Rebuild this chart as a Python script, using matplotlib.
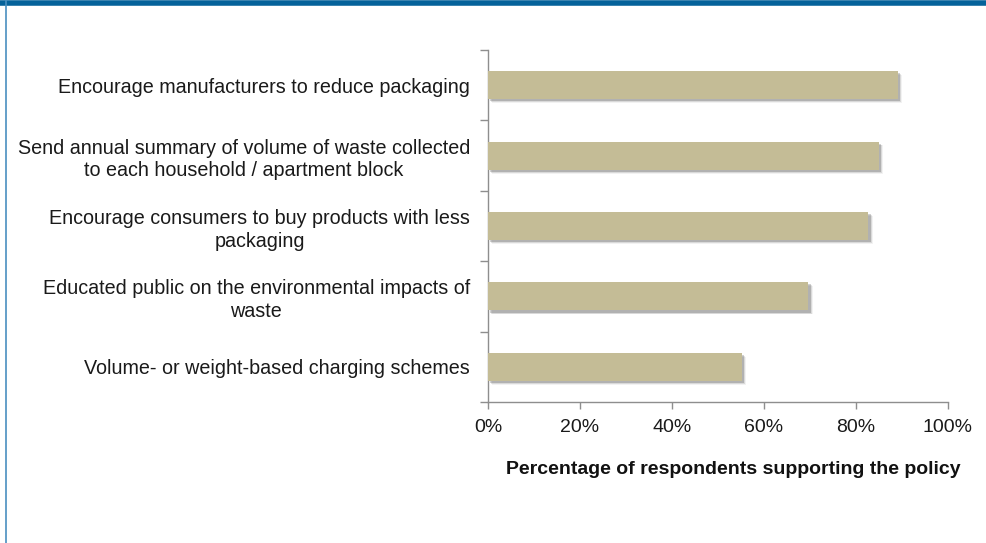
import matplotlib
matplotlib.use("Agg")
import matplotlib.pyplot as plt
import matplotlib.patheffects as pe
from matplotlib.ticker import FixedLocator, PercentFormatter
from matplotlib.lines import Line2D

plt.rcParams["font.family"] = ["Liberation Sans", "DejaVu Sans"]

policies = [
    "Encourage manufacturers to reduce packaging",
    "Send annual summary of volume of waste collected\nto each household / apartment block",
    "Encourage consumers to buy products with less\npackaging",
    "Educated public on the environmental impacts of\nwaste",
    "Volume- or weight-based charging schemes",
]
support_pct = [89.1, 85.0, 82.7, 69.6, 55.2]

bar_color = "#c4bc96"
axis_color = "#8e8e8e"
frame_blue = "#05629a"

fig = plt.figure(figsize=(9.86, 5.43), dpi=100)
ax = fig.add_axes([0.4949, 0.2597, 0.4665, 0.6482])

ypos = list(range(len(policies)))[::-1]
bars = ax.barh(ypos, support_pct, height=0.4, color=bar_color, zorder=3)

# soft drop shadow under each bar
shadow = [
    pe.SimplePatchShadow(offset=(3.2, -2.8), shadow_rgbFace="#000000", alpha=0.05),
    pe.SimplePatchShadow(offset=(2.5, -2.2), shadow_rgbFace="#000000", alpha=0.10),
    pe.SimplePatchShadow(offset=(1.8, -1.5), shadow_rgbFace="#000000", alpha=0.18),
    pe.Normal(),
]
for b in bars:
    b.set_path_effects(shadow)

ax.set_xlim(0, 100)
ax.set_ylim(-0.5, len(policies) - 0.5)
ax.xaxis.set_major_locator(FixedLocator([0, 20, 40, 60, 80, 100]))
ax.xaxis.set_major_formatter(PercentFormatter(decimals=0))

ax.set_yticks(ypos)
ax.set_yticklabels(policies, multialignment="center", linespacing=1.25)
ax.yaxis.set_minor_locator(FixedLocator([i - 0.5 for i in range(len(policies) + 1)]))
ax.tick_params(axis="y", which="major", length=0, pad=13, labelsize=14.2, colors="#1a1a1a")
ax.tick_params(axis="y", which="minor", length=6, width=1, color=axis_color, direction="out")
ax.tick_params(axis="x", length=5, width=1, color=axis_color, labelsize=14, pad=7,
               labelcolor="#1a1a1a")

for side in ("top", "right"):
    ax.spines[side].set_visible(False)
for side in ("left", "bottom"):
    ax.spines[side].set_color(axis_color)
    ax.spines[side].set_linewidth(1)

fig.text(0.744, 0.136, "Percentage of respondents supporting the policy",
         ha="center", va="center", fontsize=14, fontweight="bold", color="#111111")

# blue frame: heavy band on top, thin rule down the left side
fig.add_artist(Line2D([0, 1], [0.995, 0.995], transform=fig.transFigure,
                      color=frame_blue, linewidth=4.0, solid_capstyle="butt"))
fig.add_artist(Line2D([0.0058, 0.0058], [0, 1], transform=fig.transFigure,
                      color="#4a8fc0", linewidth=1.2))

fig.savefig("out.png", dpi=100, facecolor="white")
